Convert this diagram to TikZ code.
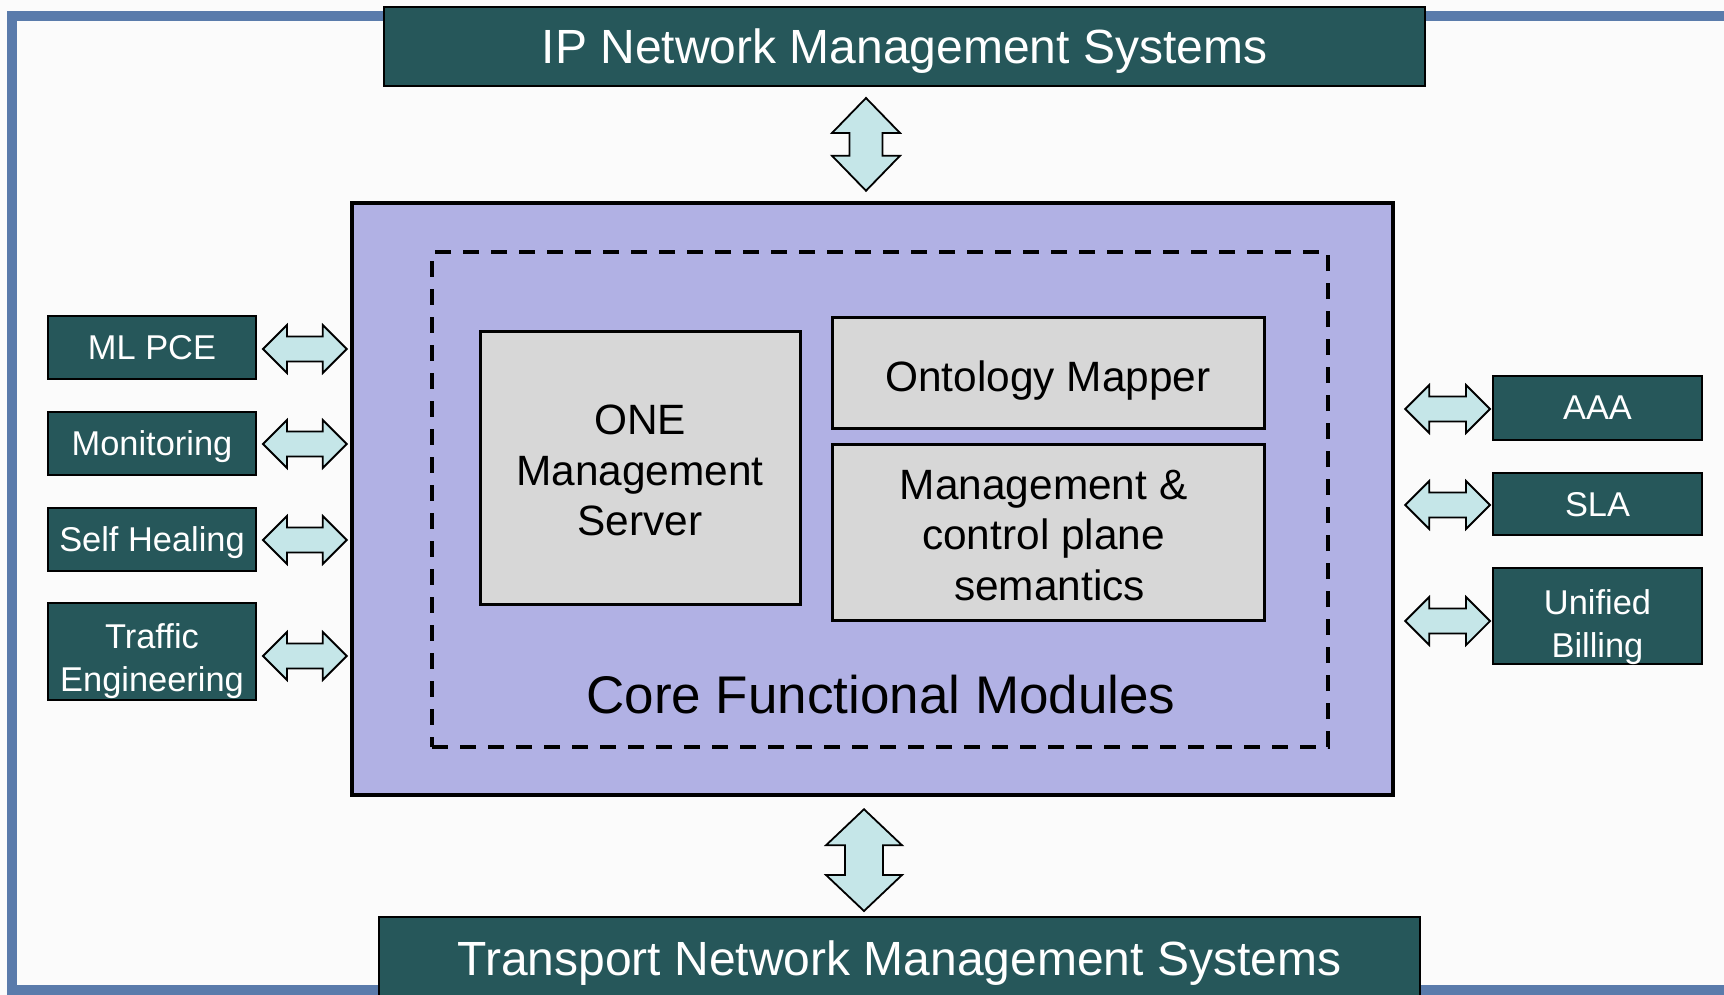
\documentclass[tikz,border=0pt]{standalone}
\usepackage{fontspec}
\setmainfont{Liberation Sans}
\usetikzlibrary{calc}
\definecolor{tealbox}{HTML}{26575A}
\definecolor{arrowfill}{HTML}{C5E6E8}
\definecolor{lav}{HTML}{B1B1E4}
\definecolor{grayb}{HTML}{D7D7D7}
\definecolor{frameblue}{HTML}{5A7BAB}
\definecolor{bgc}{HTML}{FBFBFB}
\newcommand{\hstrut}[1]{\rule{0pt}{#1}}
\tikzset{
  sysbox/.style={draw=black, line width=2pt, fill=tealbox, text=white, inner sep=0pt,
    minimum width=1041pt, text depth=0pt, font=\fontsize{48}{58}\selectfont},
  sidebox/.style={draw=black, line width=2pt, fill=tealbox, text=white, inner sep=0pt,
    align=center, minimum width=208pt, text depth=0pt, font=\fontsize{34.4}{43}\selectfont},
  innerbox/.style={draw=black, line width=3pt, fill=grayb, inner sep=0pt, align=center,
    text depth=0pt, font=\fontsize{42.4}{50.6}\selectfont},
  blockarrow/.style={draw=black, line width=1.8pt, fill=arrowfill, line join=miter},
}
% horizontal double block arrow: #1 left tip, #2 right tip
\newcommand{\hdarrow}[2]{%
  \draw[blockarrow] let \p1=#1, \p2=#2 in
    (\x1,\y1) -- (\x1+24pt,\y1+24pt) -- (\x1+24pt,\y1+12.5pt) -- (\x2-24pt,\y1+12.5pt)
    -- (\x2-24pt,\y1+24pt) -- (\x2,\y1) -- (\x2-24pt,\y1-24pt) -- (\x2-24pt,\y1-12.5pt)
    -- (\x1+24pt,\y1-12.5pt) -- (\x1+24pt,\y1-24pt) -- cycle;}
% vertical double block arrow: #1 top tip, #2 bottom tip, #3 head length, #4 head half width, #5 shaft half width
\newcommand{\vdarrow}[5]{%
  \draw[blockarrow] let \p1=#1, \p2=#2 in
    (\x1,\y1) -- (\x1+#4,\y1-#3) -- (\x1+#5,\y1-#3) -- (\x1+#5,\y2+#3) -- (\x1+#4,\y2+#3)
    -- (\x1,\y2) -- (\x1-#4,\y2+#3) -- (\x1-#5,\y2+#3) -- (\x1-#5,\y1-#3) -- (\x1-#4,\y1-#3) -- cycle;}
\begin{document}
\begin{tikzpicture}[x=1pt, y=-1pt]
\useasboundingbox (0,0) rectangle (1724,995);
\clip (0,0) rectangle (1724,995);
\fill[bgc] (0,0) rectangle (1724,995);
\draw[frameblue, line width=10pt] (12,16) rectangle (1760,990);

% top and bottom systems
\node[sysbox, minimum height=79pt] (ipnms) at (904.5,46.5) {IP Network Management Systems};
\node[sysbox, minimum height=83pt] (tnms) at (899.5,958.5) {Transport Network Management Systems};

% core box
\node[draw=black, line width=4.5pt, fill=lav, minimum width=1041pt, minimum height=592pt, inner sep=0pt] (core) at (872.5,499) {};
\node[draw=black, line width=3.5pt, dash pattern=on 16pt off 12pt, minimum width=896pt, minimum height=495pt, inner sep=0pt] (dashed) at (880,499.5) {};
\node[innerbox, minimum width=320pt, minimum height=273pt] (one) at (640,467.5) {\hstrut{35.4pt}ONE\\Management\\Server};
\node[innerbox, minimum width=432pt, minimum height=111pt] (onto) at (1048,372.5) {\hstrut{37.6pt}Ontology Mapper};
\node[innerbox, minimum width=432pt, minimum height=176pt] (mcp) at (1048,532) {\hstrut{35.4pt}Management \&\kern8.8pt\\control plane\kern8.8pt\\\ semantics\kern8.8pt};
\node[font=\fontsize{53}{64}\selectfont, inner sep=0pt] (cfm) at (881,695) {Core Functional Modules};

% left modules
\node[sidebox, minimum height=63pt] (mlpce) at (152,347.5) {ML PCE};
\node[sidebox, minimum height=63pt] (mon) at (152,443.5) {Monitoring};
\node[sidebox, minimum height=63pt] (selfh) at (152,539.5) {Self Healing};
\node[sidebox, minimum height=97pt] (te) at (152,651.5) {\hstrut{36pt}Traffic\\Engineering};

% right modules
\node[sidebox, minimum width=209pt, minimum height=64pt] (aaa) at (1597.5,408) {AAA};
\node[sidebox, minimum width=209pt, minimum height=62pt] (sla) at (1597.5,504) {SLA};
\node[sidebox, minimum width=209pt, minimum height=96pt] (bill) at (1597.5,616) {\hstrut{39pt}Unified\\Billing};

% vertical arrows
\vdarrow{($(ipnms.south -| core.north)+(-6.5,11)$)}{($(core.north)+(-6.5,-10)$)}{35pt}{34pt}{16.5pt}
\vdarrow{($(core.south)+(-8.5,12)$)}{($(tnms.north -| core.south)+(-8.5,-5)$)}{36pt}{38pt}{19pt}

% left arrows
\hdarrow{($(mlpce.east)+(6,1.5)$)}{($(mlpce.east -| core.west)+(-3,1.5)$)}
\hdarrow{($(mon.east)+(6,0.5)$)}{($(mon.east -| core.west)+(-3,0.5)$)}
\hdarrow{($(selfh.east)+(6,0.5)$)}{($(selfh.east -| core.west)+(-3,0.5)$)}
\hdarrow{($(te.east)+(6,4.5)$)}{($(te.east -| core.west)+(-3,4.5)$)}

% right arrows
\hdarrow{($(aaa.west -| core.east)+(10,1)$)}{($(aaa.west)+(-2,1)$)}
\hdarrow{($(sla.west -| core.east)+(10,1)$)}{($(sla.west)+(-2,1)$)}
\hdarrow{($(bill.west -| core.east)+(10,5)$)}{($(bill.west)+(-2,5)$)}
\end{tikzpicture}
\end{document}
